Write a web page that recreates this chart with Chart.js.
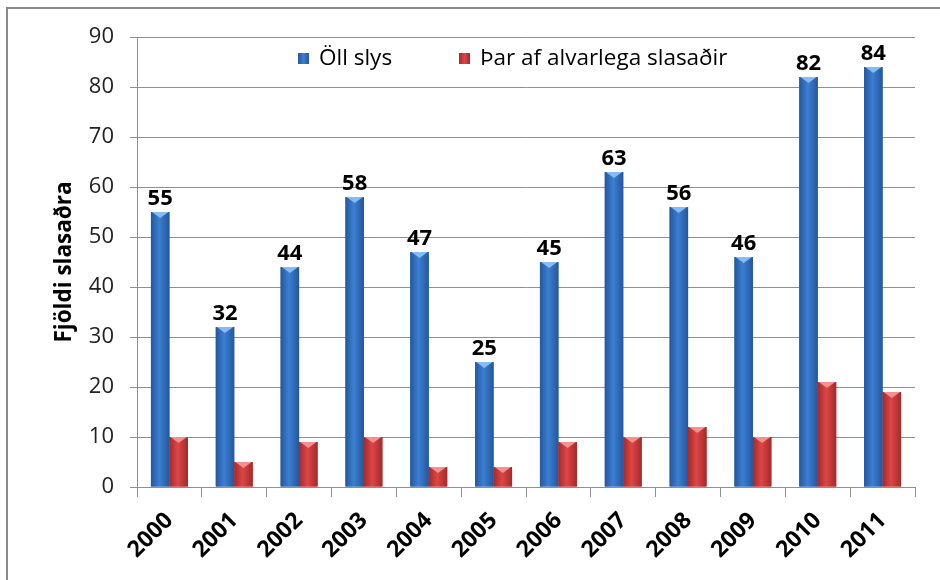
<!DOCTYPE html>
<html>
<head>
<meta charset="utf-8">
<script src="https://cdn.jsdelivr.net/npm/chart.js@4.4.0/dist/chart.umd.min.js"></script>
<style>
  html, body { margin: 0; padding: 0; background: #fff; }
  #wrap { position: relative; width: 940px; height: 580px; }
</style>
</head>
<body>
<div id="wrap"><canvas id="slys" width="940" height="580"></canvas></div>
<script>
// data
var years = ['2000', '2001', '2002', '2003', '2004', '2005', '2006', '2007', '2008', '2009', '2010', '2011'];
var allInjured = [55, 32, 44, 58, 47, 25, 45, 63, 56, 46, 82, 84];
var seriouslyInjured = [10, 5, 9, 10, 4, 4, 9, 10, 12, 10, 21, 19];
var seriesNames = ['Öll slys', 'Þar af alvarlega slasaðir'];
var yTicks = [0, 10, 20, 30, 40, 50, 60, 70, 80, 90];

var FONT = '"Open Sans", "Liberation Sans", sans-serif';

// shading for each series: [dark edge, light middle, cap]
var shades = [
  ['#24579c', '#3c7fd2', '#86bbf3'],
  ['#a42a2a', '#dc4646', '#f59090']
];

// frame around the chart (top and left edge visible)
var framePlugin = {
  id: 'frame',
  beforeDraw: function(chart) {
    var ctx = chart.ctx;
    ctx.save();
    ctx.strokeStyle = '#8a8a8a';
    ctx.lineWidth = 2;
    ctx.beginPath();
    ctx.moveTo(7, 580);
    ctx.lineTo(7, 8);
    ctx.lineTo(940, 8);
    ctx.stroke();
    ctx.restore();
  }
};

// give bars the cylinder look and the little cap on top
var shadePlugin = {
  id: 'shade',
  afterDatasetsDraw: function(chart) {
    var ctx = chart.ctx;
    ctx.save();
    chart.data.datasets.forEach(function(ds, di) {
      var meta = chart.getDatasetMeta(di);
      var s = shades[di];
      meta.data.forEach(function(bar) {
        var p = bar.getProps(['x', 'y', 'width', 'base'], true);
        var left = p.x - p.width / 2;
        var g = ctx.createLinearGradient(left, 0, left + p.width, 0);
        g.addColorStop(0, s[0]);
        g.addColorStop(0.45, s[1]);
        g.addColorStop(1, s[0]);
        ctx.fillStyle = g;
        ctx.fillRect(left, p.y, p.width, p.base - p.y);
        ctx.fillStyle = s[2];
        ctx.beginPath();
        ctx.moveTo(left + 1, p.y);
        ctx.lineTo(left + p.width - 1, p.y);
        ctx.lineTo(p.x, p.y + 6);
        ctx.closePath();
        ctx.fill();
      });
    });
    ctx.restore();
  }
};

// value labels above the blue bars
var labelPlugin = {
  id: 'valueLabels',
  afterDatasetsDraw: function(chart) {
    var ctx = chart.ctx;
    var meta = chart.getDatasetMeta(0);
    ctx.save();
    ctx.font = 'bold 22px ' + FONT;
    ctx.fillStyle = '#000';
    ctx.textAlign = 'center';
    ctx.textBaseline = 'bottom';
    meta.data.forEach(function(bar, i) {
      ctx.fillText(allInjured[i], bar.x, bar.y - 2);
    });
    ctx.restore();
  }
};

// legend sits inside the plot area
var legendPlugin = {
  id: 'insideLegend',
  afterDraw: function(chart) {
    var ctx = chart.ctx;
    var items = [{x: 298, s: shades[0]}, {x: 459, s: shades[1]}];
    ctx.save();
    ctx.font = '22.5px ' + FONT;
    ctx.textBaseline = 'middle';
    items.forEach(function(it, i) {
      var g = ctx.createLinearGradient(it.x, 0, it.x + 11, 0);
      g.addColorStop(0, it.s[0]);
      g.addColorStop(0.5, it.s[1]);
      g.addColorStop(1, it.s[0]);
      ctx.fillStyle = g;
      ctx.fillRect(it.x, 53, 11, 11);
      ctx.fillStyle = '#000';
      ctx.fillText(seriesNames[i], it.x + 21, 59);
    });
    ctx.restore();
  }
};

var ctx = document.getElementById('slys').getContext('2d');
new Chart(ctx, {
  type: 'bar',
  data: {
    labels: years,
    datasets: [
      {label: seriesNames[0], data: allInjured, backgroundColor: '#2e66b4'},
      {label: seriesNames[1], data: seriouslyInjured, backgroundColor: '#c53434'}
    ]
  },
  options: {
    responsive: false,
    animation: false,
    layout: {padding: {left: 0, right: 25, top: 37, bottom: 0}},
    datasets: {
      bar: {categoryPercentage: 0.57, barPercentage: 1.0}
    },
    scales: {
      x: {
        grid: {display: true, drawOnChartArea: false, offset: true, tickLength: 10, color: '#8f8f8f'},
        border: {color: '#8f8f8f'},
        ticks: {
          color: '#000',
          font: {family: FONT, size: 23, weight: 'bold'},
          minRotation: 45,
          maxRotation: 45,
          padding: 10
        },
        afterFit: function(scale) { scale.height = 93; }
      },
      y: {
        min: 0,
        max: 90,
        afterBuildTicks: function(scale) {
          scale.ticks = yTicks.map(function(v) { return {value: v}; });
        },
        grid: {color: '#8f8f8f', tickLength: 7},
        border: {color: '#8f8f8f'},
        ticks: {
          color: '#222',
          font: {family: FONT, size: 22},
          padding: 16
        },
        title: {
          display: true,
          text: 'Fjöldi slasaðra',
          color: '#000',
          font: {family: FONT, size: 22.5, weight: 'bold'},
          padding: {top: 51, bottom: 0}
        },
        afterFit: function(scale) { scale.width = 137; }
      }
    },
    plugins: {
      legend: {display: false},
      tooltip: {enabled: false}
    }
  },
  plugins: [framePlugin, shadePlugin, labelPlugin, legendPlugin]
});
</script>
</body>
</html>
